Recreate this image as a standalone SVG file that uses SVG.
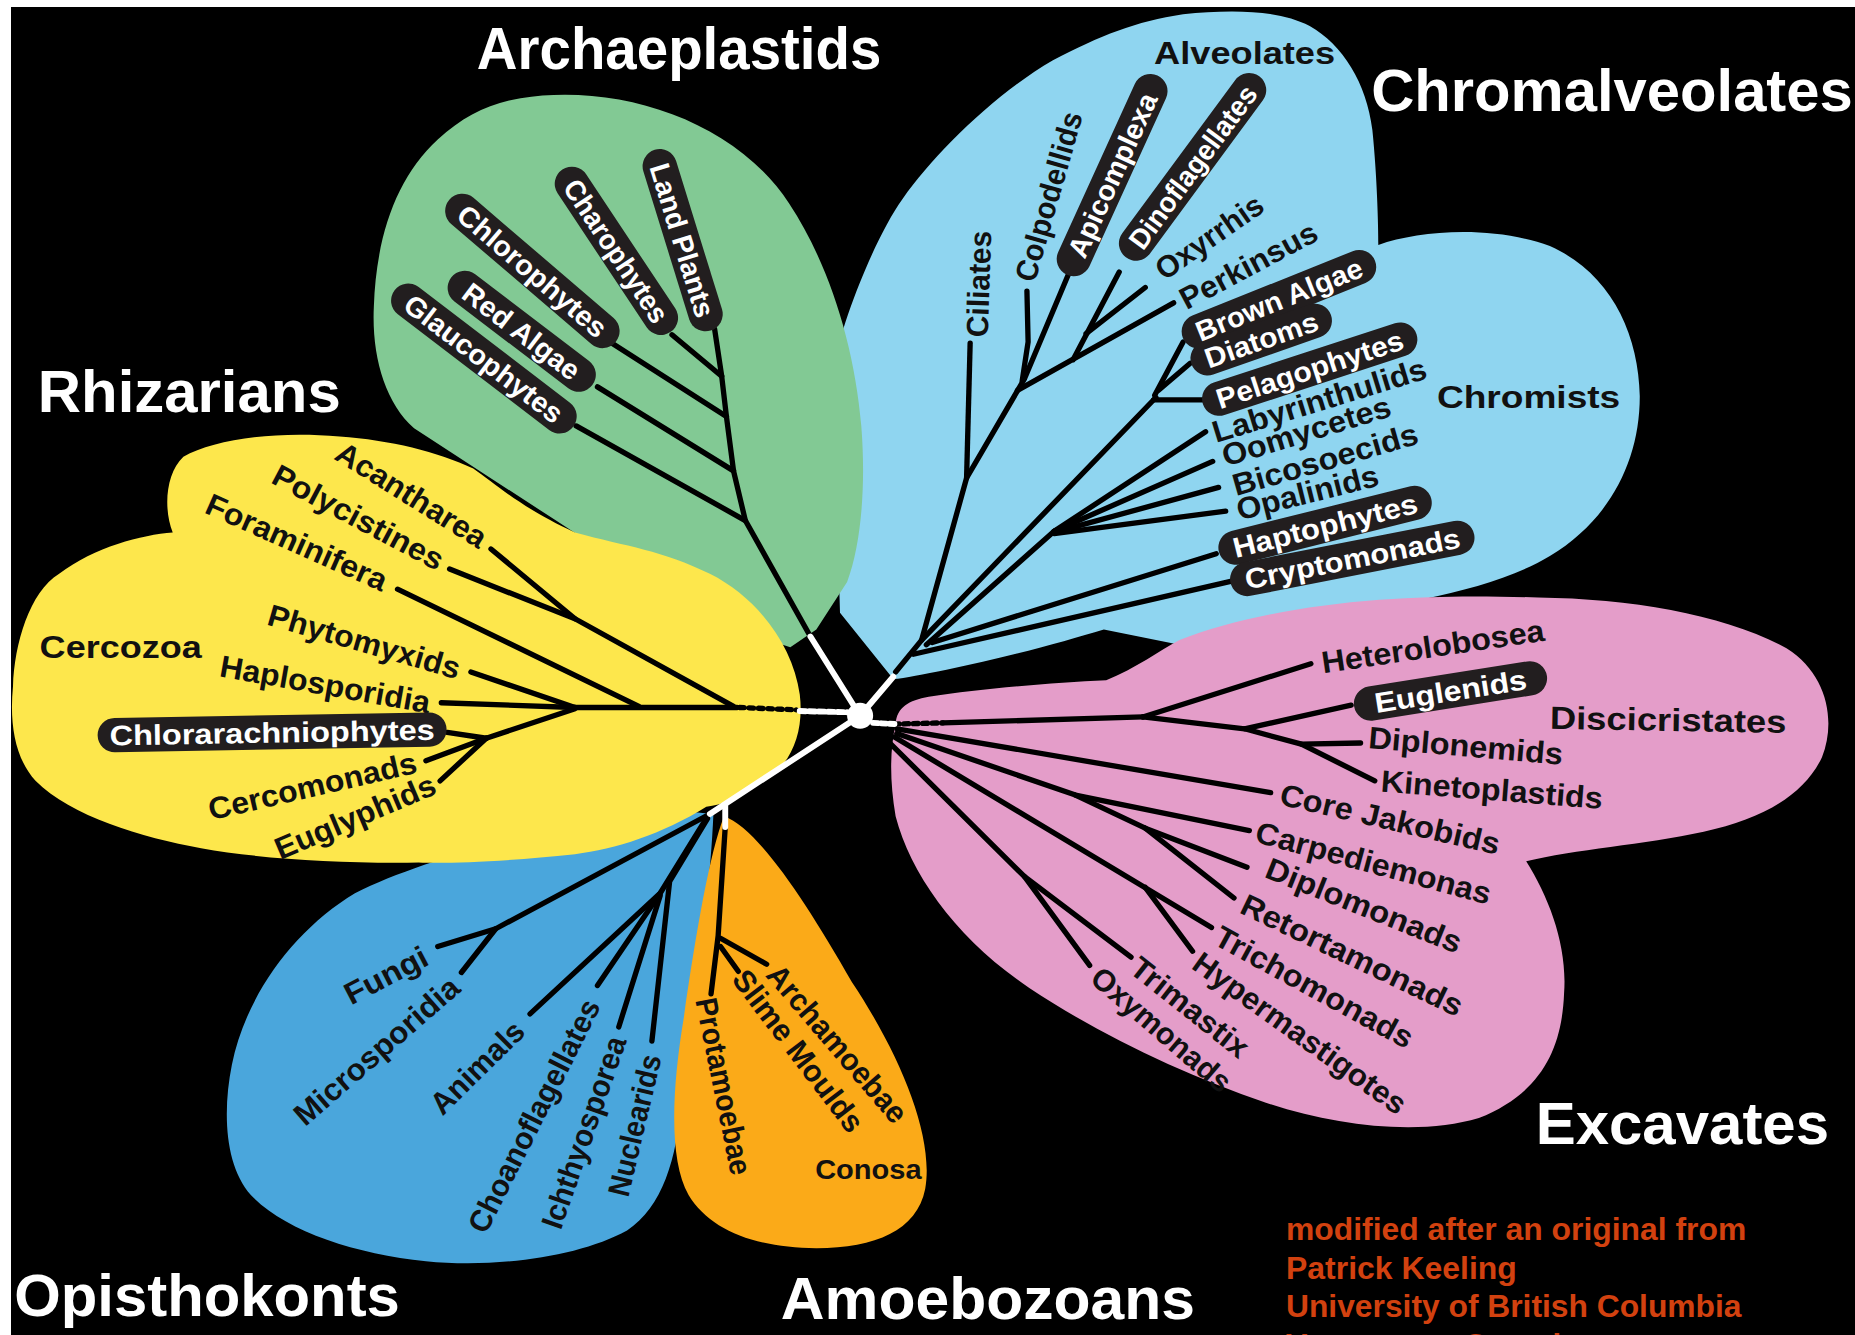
<svg xmlns="http://www.w3.org/2000/svg" width="1855" height="1335" viewBox="0 0 1855 1335">
<defs>
<style>
.lb{font-family:"Liberation Sans",Arial,sans-serif;font-weight:bold;font-size:26px;fill:#111;text-anchor:middle}
.pl rect{fill:#221e1f}
.pl text{font-family:"Liberation Sans",Arial,sans-serif;font-weight:bold;font-size:24px;fill:#fff;text-anchor:middle}
.ti{font-family:"Liberation Sans",Arial,sans-serif;font-weight:bold;font-size:50px;fill:#fff}
.cr{font-family:"Liberation Sans",Arial,sans-serif;font-weight:bold;font-size:27px;fill:#d2410f}
.ln{fill:none;stroke:#000;stroke-width:4.5;stroke-linecap:round;stroke-linejoin:round}
.wl{fill:none;stroke:#fff;stroke-width:5;stroke-linecap:round}
</style>
</defs>
<rect width="1855" height="1335" fill="#fff"/>
<rect x="11" y="7" width="1844" height="1328" fill="#000"/>
<g transform="scale(1.1831)">
<g id="blobs">
<path id="blob-chromalveolates" fill="#8fd5f0" d="M755,574 L710,518 L704,312 C712,270 740,200 763,168 C790,130 840,80 890,51 C930,30 960,18 1000,12 C1040,8 1080,8 1107,22 C1135,38 1155,70 1160,110 C1164,150 1165,190 1165,207 C1200,195 1260,190 1310,208 C1360,230 1385,280 1386,335 C1386,390 1360,440 1310,470 C1260,500 1180,512 1100,522 C1050,530 1020,538 997,545 L933,532 C900,542 850,556 800,566 C780,570 765,573 755,574 Z"/>
<path id="blob-excavates" fill="#e49dc9" d="M757,612 C758,598 768,592 785,589 C830,582 890,577 935,575 C960,565 980,550 997,541 C1040,524 1100,512 1166,507 C1220,503 1260,504 1300,505 C1380,506 1460,520 1510,548 C1545,570 1552,610 1540,640 C1525,672 1490,692 1440,703 C1390,714 1330,718 1290,728 C1310,760 1325,800 1322,840 C1320,890 1300,925 1250,945 C1200,960 1130,952 1070,932 C1000,908 930,875 870,835 C810,795 770,740 757,690 C752,660 752,635 757,612 Z"/>
<path id="blob-archaeplastids" fill="#82c994" d="M440,83 C520,70 620,100 667,172 C700,222 722,290 728,360 C732,410 728,460 716,492 L690,532 L668,547 L600,525 L470,440 L350,362 C325,340 314,300 316,259 C318,200 335,150 370,118 C392,98 412,88 440,83 Z"/>
<path id="blob-opisthokonts" fill="#4aa6dc" d="M560,684 L603,688 C600,760 585,860 576,930 C572,980 560,1020 530,1040 C490,1062 420,1072 360,1066 C300,1060 240,1040 212,1010 C190,985 188,940 196,900 C208,840 250,785 300,755 C360,725 460,700 560,684 Z"/>
<path id="blob-amoebozoans" fill="#fbaa18" d="M612,690 C640,700 680,760 720,830 C760,890 790,960 782,1005 C775,1040 740,1055 690,1055 C640,1055 600,1040 582,1010 C565,980 568,920 578,860 C588,790 600,720 612,690 Z"/>
<path id="blob-rhizarians" fill="#fde74c" d="M155,386 C180,372 230,364 287,369 C330,372 370,382 400,396 C420,410 442,430 486,450 C530,462 560,465 600,485 C640,505 670,545 676,587 C680,620 668,650 641,662 C625,675 610,680 597,682 C560,705 520,718 486,722 C430,728 380,730 354,729 C290,730 220,726 170,717 C120,708 60,690 30,660 C12,640 8,610 11,580 C12,545 25,500 50,485 C80,462 120,452 146,450 C138,430 140,400 155,386 Z"/>
</g>
<g id="connectors">
<path class="ln" d="M604,278 L610,318 L614,352 L620,398 L630,440 L685,538"/>
<path class="ln" d="M568,283 L610,318"/>
<path class="ln" d="M514,288 L614,352"/>
<path class="ln" d="M505,327 L620,398"/>
<path class="ln" d="M487,360 L630,440"/>
<path class="ln" d="M757,568 L779,541 L817,404 L866,320 L903,232"/>
<path class="ln" d="M820,290 L817,404"/>
<path class="ln" d="M868,246 L869,289 L864,322"/>
<path class="ln" d="M992,256 L860,330"/>
<path class="ln" d="M946,230 L907,304"/>
<path class="ln" d="M968,243 L918,282"/>
<path class="ln" d="M977,336 L779,541"/>
<path class="ln" d="M1000,289 L976,334"/>
<path class="ln" d="M1006,307 L979,330"/>
<path class="ln" d="M1016,338 L975,338"/>
<path class="ln" d="M891,449 L783,545"/>
<path class="ln" d="M1019,365 L891,449"/>
<path class="ln" d="M1025,390 L891,449"/>
<path class="ln" d="M1030,412 L891,450"/>
<path class="ln" d="M1036,432 L891,451"/>
<path class="ln" d="M1028,468 L788,543"/>
<path class="ln" d="M1042,491 L772,553"/>
<path class="ln" d="M623,598 L486,598"/>
<path class="ln" d="M415,464 L486,523 L620,597"/>
<path class="ln" d="M380,481 L486,523"/>
<path class="ln" d="M336,498 L540,597"/>
<path class="ln" d="M398,568 L486,598"/>
<path class="ln" d="M373,594 L486,598"/>
<path class="ln" d="M411,624 L486,599"/>
<path class="ln" d="M378,619 L411,624"/>
<path class="ln" d="M360,643 L411,624"/>
<path class="ln" d="M372,660 L411,624"/>
<path class="ln" d="M625,598 L673,600" stroke-dasharray="4 4" stroke-linecap="butt"/>
<path class="ln" d="M797,611 L966,606"/>
<path class="ln" d="M756,612 L797,611" stroke-dasharray="4 4" stroke-linecap="butt"/>
<path class="ln" d="M966,606 L1108,561"/>
<path class="ln" d="M966,606 L1052,616 L1142,596"/>
<path class="ln" d="M1052,616 L1100,629 L1150,628"/>
<path class="ln" d="M1100,629 L1162,660"/>
<path class="ln" d="M758,616 L1074,670"/>
<path class="ln" d="M758,620 L909,672 L1056,702"/>
<path class="ln" d="M909,672 L968,700 L1054,733"/>
<path class="ln" d="M968,700 L1043,759"/>
<path class="ln" d="M756,623 L1024,784"/>
<path class="ln" d="M968,750 L1008,804"/>
<path class="ln" d="M750,626 L866,741 L956,809"/>
<path class="ln" d="M866,741 L921,816"/>
<path class="ln" d="M600,688 L419,785 L370,800"/>
<path class="ln" d="M419,785 L390,822"/>
<path class="ln" d="M598,690 L558,755 L448,857"/>
<path class="ln" d="M558,755 L505,833"/>
<path class="ln" d="M558,757 L523,868"/>
<path class="ln" d="M598,692 L566,745 L551,880"/>
<path class="ln" d="M613,699 L607,791 L601,840"/>
<path class="ln" d="M648,815 L609,793"/>
<path class="ln" d="M624,821 L609,800"/>
<path class="wl" d="M727,605 L685,538"/>
<path class="wl" d="M727,605 L755,572"/>
<path class="wl" d="M727,605 L600,688"/>
<path class="wl" d="M613,681 L613,699" stroke-linecap="butt"/>
<path class="wl" d="M676,601 L716,602" stroke-dasharray="5 3" stroke-linecap="butt"/>
<path class="wl" d="M738,611 L756,612" stroke-dasharray="4 3" stroke-linecap="butt"/>
<circle cx="727" cy="605" r="11" fill="#fff"/>
</g>
<g id="archaeplastids-nodes">
<g id="land-plants" class="pl" transform="translate(577,203) rotate(72.8)"><rect x="-80" y="-14.5" width="160" height="29" rx="14.5"/><text dy="0.36em" textLength="135" lengthAdjust="spacingAndGlyphs">Land Plants</text></g>
<g id="charophytes" class="pl" transform="translate(521,212) rotate(56.4)"><rect x="-82.5" y="-14.5" width="165" height="29" rx="14.5"/><text dy="0.36em" textLength="140" lengthAdjust="spacingAndGlyphs">Charophytes</text></g>
<g id="chlorophytes" class="pl" transform="translate(450,229) rotate(40.6)"><rect x="-92.5" y="-14.5" width="185" height="29" rx="14.5"/><text dy="0.36em" textLength="158" lengthAdjust="spacingAndGlyphs">Chlorophytes</text></g>
<g id="red-algae" class="pl" transform="translate(441,280) rotate(37.3)"><rect x="-75" y="-14.5" width="150" height="29" rx="14.5"/><text dy="0.36em" textLength="118" lengthAdjust="spacingAndGlyphs">Red Algae</text></g>
<g id="glaucophytes" class="pl" transform="translate(409,303) rotate(37.4)"><rect x="-95" y="-14.5" width="190" height="29" rx="14.5"/><text dy="0.36em" textLength="162" lengthAdjust="spacingAndGlyphs">Glaucophytes</text></g>
</g>
<g id="chromalveolates-nodes">
<g id="alveolates"><text class="lb" x="1052" y="45" dy="0.36em" textLength="153" lengthAdjust="spacingAndGlyphs">Alveolates</text></g>
<g id="ciliates"><text class="lb" transform="translate(827,240) rotate(-88)" dy="0.36em" textLength="90" lengthAdjust="spacingAndGlyphs">Ciliates</text></g>
<g id="colpodellids"><text class="lb" transform="translate(886,166) rotate(-74)" dy="0.36em" textLength="148" lengthAdjust="spacingAndGlyphs">Colpodellids</text></g>
<g id="apicomplexa" class="pl" transform="translate(940,148) rotate(-65.5)"><rect x="-92.5" y="-14.5" width="185" height="29" rx="14.5"/><text dy="0.36em" textLength="150" lengthAdjust="spacingAndGlyphs">Apicomplexa</text></g>
<g id="dinoflagellates" class="pl" transform="translate(1008,141) rotate(-53.6)"><rect x="-95" y="-14.5" width="190" height="29" rx="14.5"/><text dy="0.36em" textLength="165" lengthAdjust="spacingAndGlyphs">Dinoflagellates</text></g>
<g id="oxyrrhis"><text class="lb" transform="translate(1022,200) rotate(-35)" dy="0.36em" textLength="105" lengthAdjust="spacingAndGlyphs">Oxyrrhis</text></g>
<g id="perkinsus"><text class="lb" transform="translate(1055,224) rotate(-28)" dy="0.36em" textLength="128" lengthAdjust="spacingAndGlyphs">Perkinsus</text></g>
<g id="brown-algae" class="pl" transform="translate(1081,253) rotate(-21.9)"><rect x="-87.5" y="-14.5" width="175" height="29" rx="14.5"/><text dy="0.36em" textLength="150" lengthAdjust="spacingAndGlyphs">Brown Algae</text></g>
<g id="diatoms" class="pl" transform="translate(1066,287) rotate(-19.3)"><rect x="-62.5" y="-14.5" width="125" height="29" rx="14.5"/><text dy="0.36em" textLength="100" lengthAdjust="spacingAndGlyphs">Diatoms</text></g>
<g id="pelagophytes" class="pl" transform="translate(1107,312) rotate(-18.1)"><rect x="-95" y="-14.5" width="190" height="29" rx="14.5"/><text dy="0.36em" textLength="165" lengthAdjust="spacingAndGlyphs">Pelagophytes</text></g>
<g id="labyrinthulids"><text class="lb" transform="translate(1115,338) rotate(-17)" dy="0.36em" textLength="188" lengthAdjust="spacingAndGlyphs">Labyrinthulids</text></g>
<g id="oomycetes"><text class="lb" transform="translate(1104,364) rotate(-17)" dy="0.36em" textLength="148" lengthAdjust="spacingAndGlyphs">Oomycetes</text></g>
<g id="bicosoecids"><text class="lb" transform="translate(1120,388) rotate(-16)" dy="0.36em" textLength="162" lengthAdjust="spacingAndGlyphs">Bicosoecids</text></g>
<g id="opalinids"><text class="lb" transform="translate(1105,416) rotate(-14)" dy="0.36em" textLength="123" lengthAdjust="spacingAndGlyphs">Opalinids</text></g>
<g id="haptophytes" class="pl" transform="translate(1120,444) rotate(-14)"><rect x="-92.5" y="-14.5" width="185" height="29" rx="14.5"/><text dy="0.36em" textLength="160" lengthAdjust="spacingAndGlyphs">Haptophytes</text></g>
<g id="cryptomonads" class="pl" transform="translate(1143,472) rotate(-11.1)"><rect x="-105" y="-14.5" width="210" height="29" rx="14.5"/><text dy="0.36em" textLength="185" lengthAdjust="spacingAndGlyphs">Cryptomonads</text></g>
<g id="chromists"><text class="lb" x="1292" y="335" dy="0.36em" style="font-size:27px" textLength="155" lengthAdjust="spacingAndGlyphs">Chromists</text></g>
</g>
<g id="rhizarians-nodes">
<g id="acantharea"><text class="lb" transform="translate(348,418) rotate(32)" dy="0.36em" textLength="145" lengthAdjust="spacingAndGlyphs">Acantharea</text></g>
<g id="polycistines"><text class="lb" transform="translate(303,437) rotate(28)" dy="0.36em" textLength="160" lengthAdjust="spacingAndGlyphs">Polycistines</text></g>
<g id="foraminifera"><text class="lb" transform="translate(251,458) rotate(24)" dy="0.36em" textLength="165" lengthAdjust="spacingAndGlyphs">Foraminifera</text></g>
<g id="phytomyxids"><text class="lb" transform="translate(308,542) rotate(16)" dy="0.36em" textLength="168" lengthAdjust="spacingAndGlyphs">Phytomyxids</text></g>
<g id="haplosporidia"><text class="lb" transform="translate(275,578) rotate(10)" dy="0.36em" textLength="180" lengthAdjust="spacingAndGlyphs">Haplosporidia</text></g>
<g id="cercozoa"><text class="lb" x="102" y="547" dy="0.36em" textLength="137" lengthAdjust="spacingAndGlyphs">Cercozoa</text></g>
<g id="chlorarachniophytes" class="pl" transform="translate(230,619) rotate(-1)"><rect x="-147.5" y="-14.5" width="295" height="29" rx="14.5"/><text dy="0.36em" textLength="275" lengthAdjust="spacingAndGlyphs">Chlorarachniophytes</text></g>
<g id="cercomonads"><text class="lb" transform="translate(264,664) rotate(-13)" dy="0.36em" textLength="180" lengthAdjust="spacingAndGlyphs">Cercomonads</text></g>
<g id="euglyphids"><text class="lb" transform="translate(300,690) rotate(-23)" dy="0.36em" textLength="145" lengthAdjust="spacingAndGlyphs">Euglyphids</text></g>
</g>
<g id="excavates-nodes">
<g id="heterolobosea"><text class="lb" transform="translate(1211,546) rotate(-8.4)" dy="0.36em" textLength="190" lengthAdjust="spacingAndGlyphs">Heterolobosea</text></g>
<g id="euglenids" class="pl" transform="translate(1226,584) rotate(-9)"><rect x="-82.5" y="-14.5" width="165" height="29" rx="14.5"/><text dy="0.36em" textLength="130" lengthAdjust="spacingAndGlyphs">Euglenids</text></g>
<g id="discicristates"><text class="lb" transform="translate(1410,608) rotate(1)" dy="0.36em" style="font-size:27px" textLength="200" lengthAdjust="spacingAndGlyphs">Discicristates</text></g>
<g id="diplonemids"><text class="lb" transform="translate(1239,630) rotate(5)" dy="0.36em" textLength="165" lengthAdjust="spacingAndGlyphs">Diplonemids</text></g>
<g id="kinetoplastids"><text class="lb" transform="translate(1261,667) rotate(4.5)" dy="0.36em" textLength="188" lengthAdjust="spacingAndGlyphs">Kinetoplastids</text></g>
<g id="core-jakobids"><text class="lb" transform="translate(1175,692) rotate(13)" dy="0.36em" textLength="190" lengthAdjust="spacingAndGlyphs">Core Jakobids</text></g>
<g id="carpediemonas"><text class="lb" transform="translate(1161,729) rotate(15)" dy="0.36em" textLength="205" lengthAdjust="spacingAndGlyphs">Carpediemonas</text></g>
<g id="diplomonads"><text class="lb" transform="translate(1153,765) rotate(21.7)" dy="0.36em" textLength="176" lengthAdjust="spacingAndGlyphs">Diplomonads</text></g>
<g id="retortamonads"><text class="lb" transform="translate(1143,807) rotate(25.6)" dy="0.36em" textLength="205" lengthAdjust="spacingAndGlyphs">Retortamonads</text></g>
<g id="trichomonads"><text class="lb" transform="translate(1111,834) rotate(28.6)" dy="0.36em" textLength="187" lengthAdjust="spacingAndGlyphs">Trichomonads</text></g>
<g id="hypermastigotes"><text class="lb" transform="translate(1099,873) rotate(35.6)" dy="0.36em" textLength="215" lengthAdjust="spacingAndGlyphs">Hypermastigotes</text></g>
<g id="trimastix"><text class="lb" transform="translate(1006,851) rotate(38.4)" dy="0.36em" textLength="120" lengthAdjust="spacingAndGlyphs">Trimastix</text></g>
<g id="oxymonads"><text class="lb" transform="translate(982,870) rotate(40.6)" dy="0.36em" textLength="147" lengthAdjust="spacingAndGlyphs">Oxymonads</text></g>
</g>
<g id="opisthokonts-nodes">
<g id="fungi"><text class="lb" transform="translate(326,824) rotate(-27.5)" dy="0.36em" textLength="76" lengthAdjust="spacingAndGlyphs">Fungi</text></g>
<g id="microsporidia"><text class="lb" transform="translate(318,888) rotate(-41)" dy="0.36em" textLength="176" lengthAdjust="spacingAndGlyphs">Microsporidia</text></g>
<g id="animals"><text class="lb" transform="translate(403,902) rotate(-44.6)" dy="0.36em" textLength="100" lengthAdjust="spacingAndGlyphs">Animals</text></g>
<g id="choanoflagellates"><text class="lb" transform="translate(451,943) rotate(-63.3)" dy="0.36em" textLength="217" lengthAdjust="spacingAndGlyphs">Choanoflagellates</text></g>
<g id="ichthyosporea"><text class="lb" transform="translate(493,957) rotate(-70.8)" dy="0.36em" textLength="170" lengthAdjust="spacingAndGlyphs">Ichthyosporea</text></g>
<g id="nuclearids"><text class="lb" transform="translate(536,951) rotate(-76.6)" dy="0.36em" textLength="122" lengthAdjust="spacingAndGlyphs">Nuclearids</text></g>
</g>
<g id="amoebozoans-nodes">
<g id="protamoebae"><text class="lb" transform="translate(612,918) rotate(78.5)" dy="0.36em" textLength="152" lengthAdjust="spacingAndGlyphs">Protamoebae</text></g>
<g id="slime-moulds"><text class="lb" transform="translate(675,888) rotate(52.7)" dy="0.36em" textLength="165" lengthAdjust="spacingAndGlyphs">Slime Moulds</text></g>
<g id="archamoebae"><text class="lb" transform="translate(708,882) rotate(49.3)" dy="0.36em" textLength="167" lengthAdjust="spacingAndGlyphs">Archamoebae</text></g>
<g id="conosa"><text class="lb" x="734" y="988" dy="0.36em" style="font-size:24px" textLength="90" lengthAdjust="spacingAndGlyphs">Conosa</text></g>
</g>
<g id="titles">
<text class="ti" x="403" y="58" textLength="342" lengthAdjust="spacingAndGlyphs">Archaeplastids</text>
<text class="ti" x="1159" y="94" textLength="407" lengthAdjust="spacingAndGlyphs">Chromalveolates</text>
<text class="ti" x="32" y="348" textLength="256" lengthAdjust="spacingAndGlyphs">Rhizarians</text>
<text class="ti" x="12" y="1112" textLength="326" lengthAdjust="spacingAndGlyphs">Opisthokonts</text>
<text class="ti" x="660" y="1115" textLength="350" lengthAdjust="spacingAndGlyphs">Amoebozoans</text>
<text class="ti" x="1298" y="967" textLength="248" lengthAdjust="spacingAndGlyphs">Excavates</text>
</g>
<g id="credits">
<text class="cr" x="1087" y="1048" textLength="389" lengthAdjust="spacingAndGlyphs">modified after an original from</text>
<text class="cr" x="1087" y="1081">Patrick Keeling</text>
<text class="cr" x="1087" y="1113" textLength="385" lengthAdjust="spacingAndGlyphs">University of British Columbia</text>
<text class="cr" x="1087" y="1146">Vancouver, Canada</text>
</g>
</g>
</svg>
